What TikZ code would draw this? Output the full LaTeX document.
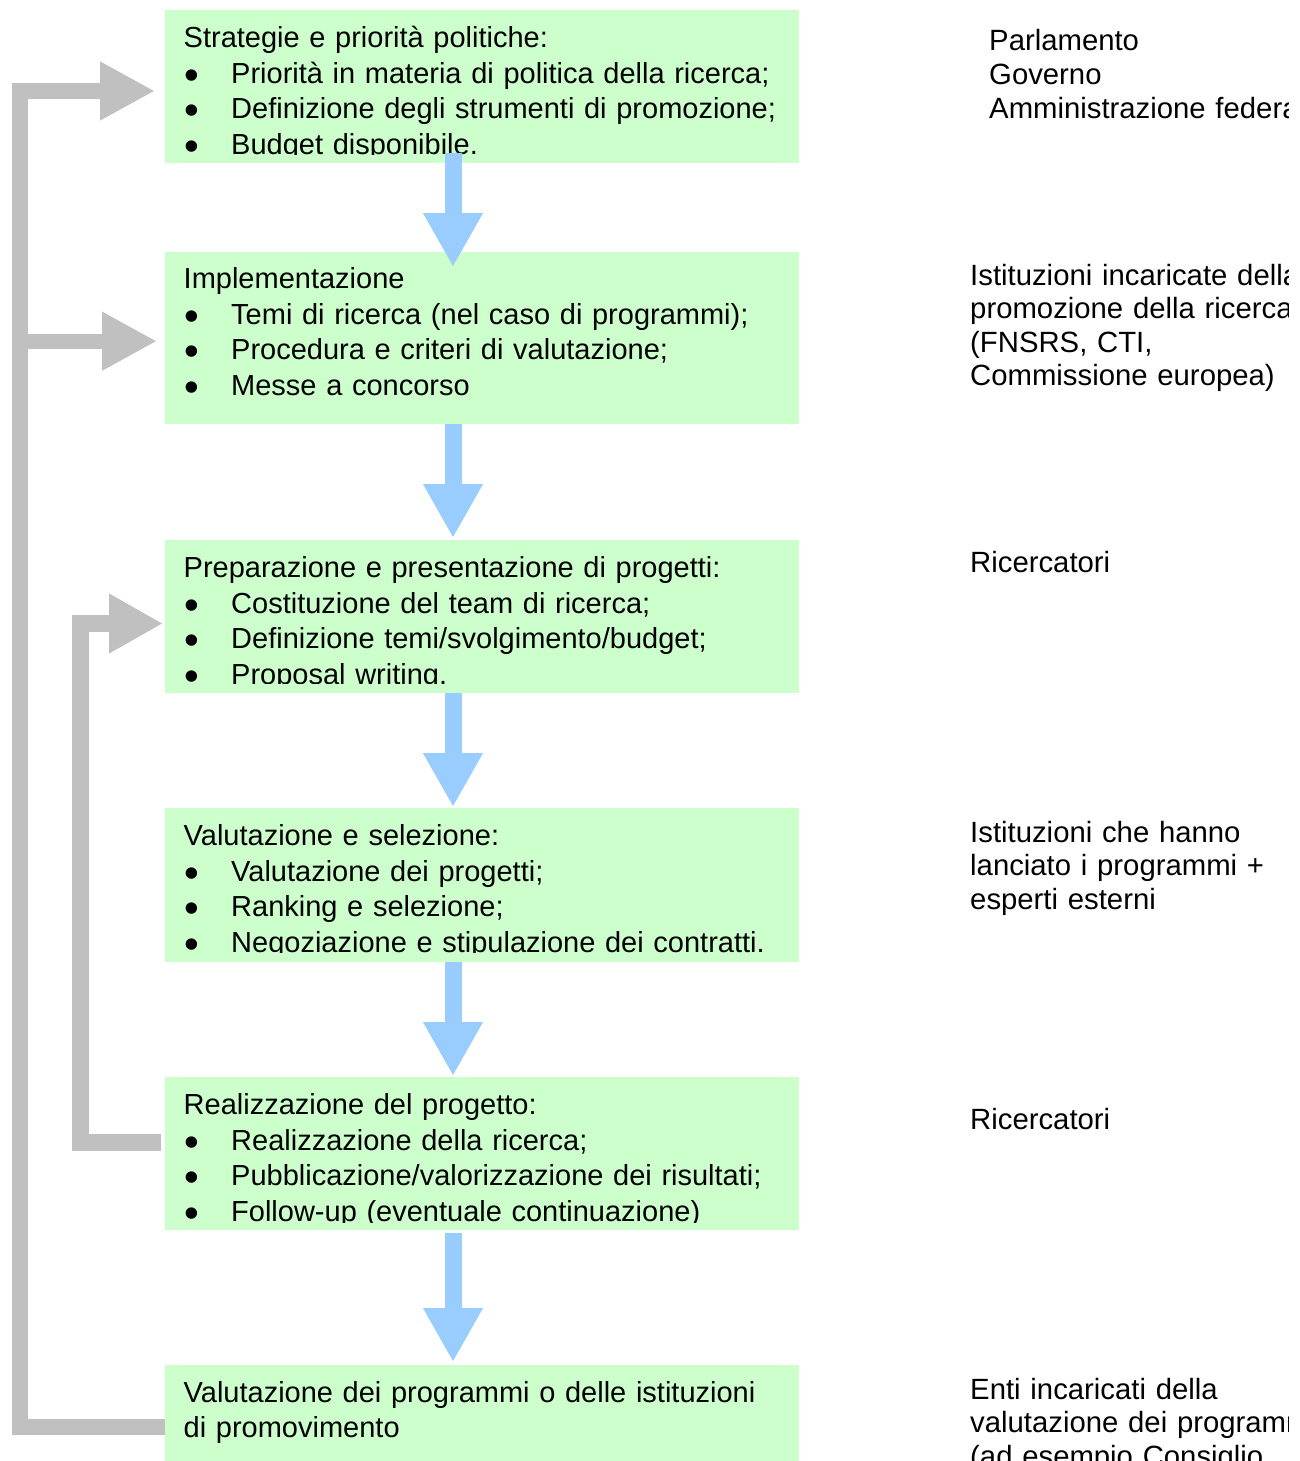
\documentclass[tikz,border=0pt]{standalone}
\usepackage{fontspec}
\setmainfont{Liberation Sans}
\usetikzlibrary{arrows.meta,calc}

\definecolor{boxgreen}{HTML}{CCFFCC}
\definecolor{flowblue}{HTML}{99CCFF}
\definecolor{loopgray}{HTML}{C0C0C0}

% bullet column of the lists inside the stages
\newcommand\bul{\makebox[47.5pt][l]{\hspace{0.5pt}\raisebox{-6pt}{\scalebox{1.45}{•}}}}

\tikzset{
  stage/.style={fill=boxgreen, inner sep=0pt, minimum width=634pt, anchor=north west},
  boxtext/.style={anchor=base west, inner sep=0pt, text width=700pt, align=left,
                  font=\fontsize{29.0}{35.6}\selectfont},
  sidetext/.style={anchor=base west, inner sep=0pt, text width=700pt, align=left,
                   font=\fontsize{29.3}{33.6}\selectfont},
  flow/.style={draw=flowblue, line width=17pt, -{Triangle[length=54pt,width=56pt]}},
  feedback/.style={draw=loopgray, line width=16pt, line join=miter,
                   -{Triangle[length=55pt,width=55pt]}},
  feedbackin/.style={draw=loopgray, line width=17pt, line join=miter,
                     -{Triangle[length=54pt,width=56pt]}}
}

\begin{document}
\begin{tikzpicture}[x=1pt,y=-1pt]
\useasboundingbox (0,0) rectangle (1299,1461);
\clip (0,0) rectangle (1299,1461);

% stages of the process
\node[stage, minimum height=153pt] (b1) at (165,10) {};
\node[stage, minimum height=172pt] (b2) at (165,252) {};
\node[stage, minimum height=153pt] (b3) at (165,540) {};
\node[stage, minimum height=154pt] (b4) at (165,808) {};
\node[stage, minimum height=153pt] (b5) at (165,1077) {};
\node[stage, minimum height=123pt] (b6) at (165,1365) {};

% stage contents (the last list line is cut by the box)
\begin{scope}
  \clip (b1.north west) rectangle ($(b1.south east)+(0,-9)$);
  \node[boxtext] (t1) at (183.5,47.5) {Strategie e priorità politiche:\\
    \bul Priorità in materia di politica della ricerca;\\
    \bul Definizione degli strumenti di promozione;\\
    \bul Budget disponibile.};
\end{scope}
\node[boxtext] (t2) at (183.5,288.5) {Implementazione\\
    \bul Temi di ricerca (nel caso di programmi);\\
    \bul Procedura e criteri di valutazione;\\
    \bul Messe a concorso};
\begin{scope}
  \clip (b3.north west) rectangle ($(b3.south east)+(0,-10)$);
  \node[boxtext] (t3) at (183.5,577.5) {Preparazione e presentazione di progetti:\\
    \bul Costituzione del team di ricerca;\\
    \bul Definizione temi/svolgimento/budget;\\
    \bul Proposal writing.};
\end{scope}
\begin{scope}
  \clip (b4.north west) rectangle ($(b4.south east)+(0,-10)$);
  \node[boxtext] (t4) at (183.5,845.5) {Valutazione e selezione:\\
    \bul Valutazione dei progetti;\\
    \bul Ranking e selezione;\\
    \bul Negoziazione e stipulazione dei contratti.};
\end{scope}
\begin{scope}
  \clip (b5.north west) rectangle ($(b5.south east)+(0,-8)$);
  \node[boxtext] (t5) at (183.5,1114.5) {Realizzazione del progetto:\\
    \bul Realizzazione della ricerca;\\
    \bul Pubblicazione/valorizzazione dei risultati;\\
    \bul Follow-up (eventuale continuazione)};
\end{scope}
\node[boxtext] (t6) at (183.5,1402) {Valutazione dei programmi o delle istituzioni\\
    di promovimento};

% actors responsible for each stage (text column ends before the page edge)
\begin{scope}
  \clip (900,0) rectangle (1288,1461);
  \node[sidetext] (s1) at (989,51) {Parlamento\\Governo\\Amministrazione federale};
  \node[sidetext] (s2) at (970,285) {Istituzioni incaricate della\\promozione della ricerca\\(FNSRS, CTI,\\Commissione europea)};
  \node[sidetext] (s3) at (970,572) {Ricercatori};
  \node[sidetext] (s4) at (970,842) {Istituzioni che hanno\\lanciato i programmi +\\esperti esterni};
  \node[sidetext] (s5) at (970,1129) {Ricercatori};
  \node[sidetext] (s6) at (970,1399) {Enti incaricati della\\valutazione dei programmi\\(ad esempio Consiglio};
\end{scope}

% main downward flow
\coordinate (axis) at (453,0);
\draw[flow] ($(b1.south -| axis)+(0,-10)$) -- ($(b2.north -| axis)+(0,15)$);
\draw[flow] (b2.south -| axis) -- ($(b3.north -| axis)+(0,-2)$);
\draw[flow] (b3.south -| axis) -- ($(b4.north -| axis)+(0,-1)$);
\draw[flow] (b4.south -| axis) -- ($(b5.north -| axis)+(0,-1)$);
\draw[flow] ($(b5.south -| axis)+(0,3)$) -- ($(b6.north -| axis)+(0,-3)$);

% feedback loops
\coordinate (outer) at (20,91);
\coordinate (inner) at (80.5,623.5);
\draw[feedback] (b6.west) -| (outer) -- ($(b1.west |- outer)+(-10,0)$);
\draw[feedback, line width=15pt] ($(b2.west -| outer)+(0,3)$) -- ($(b2.west)+(-8,3)$);
\draw[feedbackin] ($(b5.west)+(-4,-11)$) -| (inner) -- ($(b3.west |- inner)+(-2,0)$);
\end{tikzpicture}
\end{document}
